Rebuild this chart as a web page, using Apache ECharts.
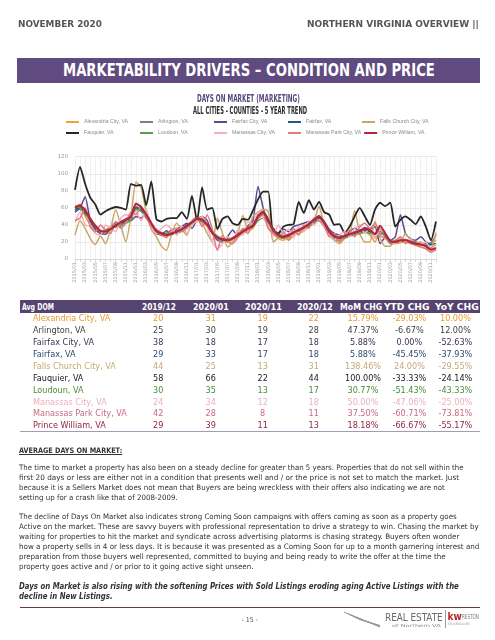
<!DOCTYPE html>
<html><head><meta charset="utf-8">
<script src="https://cdn.jsdelivr.net/npm/echarts@6.0.0/dist/echarts.min.js"></script>
<style>
html,body{margin:0;padding:0;background:#fff;}
body{width:495px;height:640px;position:relative;overflow:hidden;}
#chart{position:absolute;left:0;top:0;width:495px;height:640px;}
</style></head><body>
<div id="chart"></div>
<script>
// ---------- DATA ----------
const cityNames = ['Alexandria City, VA','Arlington, VA','Fairfax City, VA','Fairfax, VA','Falls Church City, VA','Fauquier, VA','Loudoun, VA','Manassas City, VA','Manassas Park City, VA','Prince William, VA'];
const months = [];
for (let y = 2015; y <= 2020; y++) for (let m = 1; m <= 12; m++) months.push(y + '/' + (m < 10 ? '0' + m : m));
const yTicks = [0, 20, 40, 60, 80, 100, 120];

const alexandria = [62,64,50,40,34,30,32,38,37,44,42,48, 60,56,50,40,30,28,27,29,31,34,37,40, 45,43,38,30,24,22,20,22,25,30,33,36, 47,52,42,30,24,22,25,28,30,33,38,42, 47,38,28,22,21,24,27,29,30,31,28,20, 31,26,19,18,19,20,18,16,16,15,19,22];
const arlington = [60,58,55,44,37,32,34,37,42,44,47,51, 62,58,50,41,33,31,30,31,33,36,40,44, 48,47,41,33,27,24,23,25,29,33,37,40, 52,56,47,35,29,27,29,32,35,38,42,47, 51,44,33,27,26,28,30,32,34,36,33,25, 30,28,22,20,23,23,21,20,19,18,19,28];
const fairfaxCity = [55,60,73,45,35,30,29,35,43,38,47,45, 50,48,55,40,30,29,33,28,35,38,42,36, 46,50,45,30,22,20,26,34,27,33,39,45, 85,60,42,36,30,35,32,38,40,42,44,41, 48,44,35,30,28,25,32,36,33,37,35,38, 18,25,22,26,52,30,24,22,26,20,17,18];
const fairfax = [57,61,54,45,37,33,33,36,40,42,45,49, 60,58,51,41,33,30,29,30,32,35,38,42, 46,45,40,31,25,22,22,24,28,32,35,38, 49,53,44,33,27,25,27,30,33,36,40,44, 49,42,31,26,24,26,28,30,32,34,32,29, 33,28,21,19,21,21,20,18,17,16,17,18];
const fallsChurch = [28,45,36,24,17,27,18,35,58,40,20,50, 90,84,55,35,26,15,10,30,42,35,28,45, 50,42,30,20,48,30,14,20,30,51,35,50, 55,58,56,20,25,30,22,28,35,38,40,45, 62,40,28,22,18,24,28,57,30,20,20,44, 25,15,15,22,20,30,22,18,20,16,13,31];
const fauquier = [81,108,88,72,64,52,56,59,61,60,58,88, 86,87,63,91,47,44,47,48,48,55,47,74, 45,84,58,60,35,47,50,42,40,47,46,57, 70,79,79,29,30,38,40,41,67,54,69,58, 67,55,52,40,41,31,38,50,60,50,40,58, 66,62,66,38,46,50,46,41,50,38,22,44];
const loudoun = [62,60,52,48,38,32,34,36,38,40,42,46, 58,56,48,40,32,28,30,34,30,33,38,42, 46,44,40,30,24,20,24,22,30,34,35,38, 45,48,40,32,26,24,28,30,33,36,38,42, 45,38,30,24,22,25,27,28,30,32,30,30, 35,26,18,20,24,21,19,17,18,16,13,17];
const manassasCity = [43,55,40,38,30,28,40,36,32,48,52,50, 55,45,58,38,30,36,40,35,28,38,30,40, 45,50,38,20,12,18,26,22,34,28,45,40, 56,48,40,28,40,30,35,25,38,32,45,40, 46,38,30,22,28,32,26,36,40,30,36,24, 34,30,22,18,24,20,24,16,18,20,12,18];
const manassasPark = [45,48,60,38,32,40,34,30,44,36,42,55, 52,62,50,38,35,28,25,34,36,32,36,44, 48,38,52,35,10,28,20,18,25,36,30,42, 48,52,36,30,26,32,22,36,28,40,36,48, 45,40,26,30,20,28,34,26,38,42,36,42, 28,24,20,22,26,18,22,16,14,12,8,11];
const princeWilliam = [60,63,57,47,39,33,32,35,39,43,46,50, 65,61,52,42,33,30,28,30,32,35,39,43, 47,46,40,31,25,23,22,24,28,32,36,39, 50,55,46,34,28,26,28,31,34,37,41,46, 50,43,32,27,25,27,29,31,33,35,34,29, 39,30,21,20,22,22,20,18,17,15,11,13];

// table
const tableHeader = ['Avg DOM','2019/12','2020/01','2020/11','2020/12','MoM CHG','YTD CHG','YoY CHG'];
const dom1912 = [20,25,38,29,44,58,30,24,42,29];
const dom2001 = [31,30,18,33,25,66,35,34,28,39];
const dom2011 = [19,19,17,17,13,22,13,12,8,11];
const dom2012 = [22,28,18,18,31,44,17,18,11,13];
const momChg = [15.79,47.37,5.88,5.88,138.46,100.00,30.77,50.00,37.50,18.18];
const ytdChg = [-29.03,-6.67,0.00,-45.45,24.00,-33.33,-51.43,-47.06,-60.71,-66.67];
const yoyChg = [10.00,12.00,-52.63,-37.93,-29.55,-24.14,-43.33,-25.00,-73.81,-55.17];

// ---------- STYLE ----------
const lineColors = ['#E9A43A','#808080','#5C4B8C','#1F5D7B','#C9A767','#262626','#5E9B4F','#F2B0C0','#E47A7E','#B3263C'];
const textColors = ['#E89B2E','#404040','#3E3357','#2E4B6E','#C9A873','#1a1a1a','#4E8B3A','#EBB0BE','#C86A80','#8E2645'];
const COND = "'DejaVu Sans Condensed','Liberation Sans Narrow','DejaVu Sans',sans-serif";

const seriesData = [alexandria, arlington, fairfaxCity, fairfax, fallsChurch, fauquier, loudoun, manassasCity, manassasPark, princeWilliam];

const chart = echarts.init(document.getElementById('chart'), null, {renderer:'canvas'});
chart.setOption({
  animation:false,
  legend:{
    left:66, top:118, width:375, orient:'horizontal', padding:0,
    itemWidth:13, itemHeight:2, itemGap:3, icon:'rect',
    textStyle:{fontSize:5.2, color:'#8a8a8a', width:53, overflow:'none', lineHeight:8, fontFamily:"'Liberation Sans',Arial,sans-serif"},
    data:cityNames
  },
  grid:{left:75, right:59, top:156.7, height:102.3, outerBoundsMode:'none', containLabel:false},
  xAxis:{
    type:'category', data:months, boundaryGap:false,
    axisLine:{lineStyle:{color:'#d6d6d6'}},
    axisTick:{show:true, interval:0, length:3, lineStyle:{color:'#d6d6d6'}},
    axisLabel:{interval:1, rotate:90, fontSize:5, color:'#9a9a9a', margin:3, fontFamily:"'DejaVu Sans',sans-serif"},
    splitLine:{show:true, interval:0, lineStyle:{color:'#ebebeb', width:0.8}}
  },
  yAxis:{
    type:'value', min:yTicks[0], max:yTicks[yTicks.length-1], interval:20,
    axisLine:{show:false}, axisTick:{show:false},
    axisLabel:{fontSize:5.5, color:'#9a9a9a', margin:7, fontFamily:"'DejaVu Sans',sans-serif"},
    splitLine:{lineStyle:{color:'#e3e3e3', width:0.8}}
  },
  series: seriesData.map((d,i)=>({
    name:cityNames[i], type:'line', data:d, symbol:'none', smooth:0.2,
    lineStyle:{width: i===9 ? 2.2 : (i===5 ? 1.8 : 1.5), color:lineColors[i]},
    itemStyle:{color:lineColors[i]},
    z: i===9 ? 5 : 2
  }))
});

// ---------- HTML TEXT ----------
function addBox(x,y,w,h,bg){
  const d=document.createElement('div');
  d.style.cssText=`position:absolute;left:${x}px;top:${y}px;width:${w}px;height:${h}px;background:${bg};`;
  document.body.appendChild(d); return d;
}
function addText(txt,x,y,o){
  const d=document.createElement('div');
  d.textContent=txt;
  d.style.cssText=`position:absolute;white-space:nowrap;line-height:1;font-family:${o.font||COND};font-size:${o.size}px;font-weight:${o.weight||'normal'};font-style:${o.style||'normal'};color:${o.color||'#333'};text-decoration:${o.deco||'none'};`;
  document.body.appendChild(d);
  const w=d.offsetWidth,h=d.offsetHeight;
  const sx=o.w? o.w/w : (o.sx||1);
  const align=o.align||'left';
  let left = align==='left'? x : align==='center'? x-w*sx/2 : x-w*sx;
  d.style.left=left+'px';
  d.style.top=(y-h/2)+'px';
  d.style.transformOrigin='0 50%';
  if(sx!==1) d.style.transform=`scaleX(${sx})`;
  d._sx=sx;
  return d;
}

// page header
addText('NOVEMBER 2020',18,24,{size:9.5,weight:'bold',color:'#555',w:84});
addText('NORTHERN VIRGINIA OVERVIEW ||',479,24,{size:9.5,weight:'bold',color:'#555',w:172,align:'right'});
addBox(17,58,463,25,'#5F4B80');
addText('MARKETABILITY DRIVERS – CONDITION AND PRICE',249,70.5,{size:17,weight:'bold',color:'#fff',w:372,align:'center'});

// chart titles
addText('DAYS ON MARKET (MARKETING)',248.5,98.5,{size:10.5,weight:'bold',color:'#5A4A7C',w:103,align:'center'});
addText('ALL CITIES - COUNTIES - 5 YEAR TREND',250,110.7,{size:10,weight:'bold',color:'#2b2b2b',w:114,align:'center'});

// table
addBox(20,299.5,460,13.5,'#55446F');
const hdrX=[22,159,211,263.5,315,361,407,457];
const hdrW=[32,34,36,37,36,42,46,44];
tableHeader.forEach((t,i)=>addText(t,hdrX[i],306.5,{size:9.5,weight:'bold',color:'#fff',w:hdrW[i],align:i===0?'left':'center'}));
const colX=[158,210.5,262.5,313.5,363,409.5,455.5];
const fmtPct=v=>v.toFixed(2)+'%';
cityNames.forEach((n,r)=>{
  const y=318.7+r*11.9;
  const c=textColors[r];
  addText(n,33,y,{size:9,color:c});
  const vals=[dom1912[r],dom2001[r],dom2011[r],dom2012[r],fmtPct(momChg[r]),fmtPct(ytdChg[r]),fmtPct(yoyChg[r])];
  vals.forEach((v,k)=>addText(String(v),colX[k],y,{size:9,color:c,align:'center'}));
});
addBox(20,431,460,1,'#A49BB5');

// body text
addText('AVERAGE DAYS ON MARKET:',19,450.7,{size:7.5,weight:'bold',color:'#333',w:103,deco:'underline'});
function para(lines,y0,dy,opts){
  let lastSx=1;
  lines.forEach((l,i)=>{
    const o=Object.assign({},opts);
    if(l[1]) o.w=l[1]-19; else o.sx=lastSx;
    const d=addText(l[0],19,y0+i*dy,o);
    lastSx=d._sx;
  });
}
para([
 ['The time to market a property has also been on a steady decline for greater than 5 years. Properties that do not sell within the',463],
 ['first 20 days or less are either not in a condition that presents well and / or the price is not set to match the market. Just',459],
 ['because it is a Sellers Market does not mean that Buyers are being wreckless with their offers also indicating we are not',445],
 ['setting up for a crash like that of 2008-2009.',0]
],468.3,10,{size:7.5,color:'#333'});
para([
 ['The decline of Days On Market also indicates strong Coming Soon campaigns with offers coming as soon as a property goes',457],
 ['Active on the market. These are savvy buyers with professional representation to drive a strategy to win. Chasing the market by',479],
 ['waiting for properties to hit the market and syndicate across advertising platorms is chasing strategy. Buyers often wonder',459],
 ['how a property sells in 4 or less days. It is because it was presented as a Coming Soon for up to a month garnering interest and',479],
 ['preparation from those buyers well represented, committed to buying and being ready to write the offer at the time the',446],
 ['property goes active and / or prior to it going active sight unseen.',0]
],516.8,10.1,{size:7.5,color:'#333'});
para([
 ['Days on Market is also rising with the softening Prices with Sold Listings eroding aging Active Listings with the',459],
 ['decline in New Listings.',0]
],586.7,10.6,{size:8,weight:'bold',style:'italic',color:'#333'});

// footer
addBox(20,606.6,460,1.3,'#6E3A33');
addText('- 15 -',250,620.7,{size:7,color:'#555',align:'center'});
const svgNS='http://www.w3.org/2000/svg';
const svg=document.createElementNS(svgNS,'svg');
svg.setAttribute('width','40');svg.setAttribute('height','20');
svg.style.cssText='position:absolute;left:342px;top:610px;';
for(let k=0;k<6;k++){
  const ln=document.createElementNS(svgNS,'line');
  ln.setAttribute('x1',String(2+k*3));ln.setAttribute('y1',String(2+k*1.5));
  ln.setAttribute('x2',String(38));ln.setAttribute('y2',String(17-k*0.3));
  ln.setAttribute('stroke','#9a9a9a');ln.setAttribute('stroke-width','1');
  svg.appendChild(ln);
}
document.body.appendChild(svg);
addText('REAL ESTATE',385,617.5,{size:10,color:'#6a6a6a',w:58});
addText('of  Northern  VA',392,626.3,{size:4,color:'#8a8a8a',w:48});
addBox(445,610,1,18,'#9a9a9a');
addText('kw',447.5,617,{size:10,weight:'bold',color:'#B3282D',w:14});
addText('RESTON',462,617,{size:7,color:'#7a7a7a',w:17});
addText('KELLERWILLIAMS',448,625,{size:3.5,color:'#a0a0a0',w:22});
</script>
</body></html>
